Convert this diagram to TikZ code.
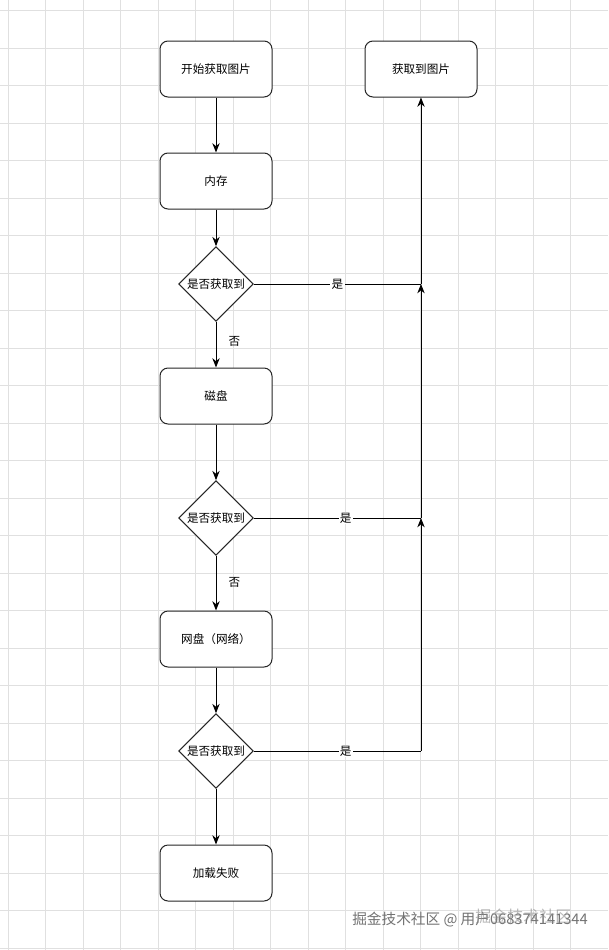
\documentclass[tikz,border=0pt]{standalone}
\usepackage{fontspec}
\setmainfont{Noto Sans CJK SC}
\usetikzlibrary{shapes.geometric,arrows.meta}
\tikzset{
	stepbox/.style={draw=black!85, line width=0.75pt, rounded corners=6pt, minimum width=84pt, minimum height=42pt, font=\fontsize{8.7pt}{10pt}\selectfont},
	decision/.style={draw=black!85, line width=0.75pt, diamond, inner sep=0pt, minimum width=56pt, minimum height=56pt, font=\fontsize{8.7pt}{10pt}\selectfont},
	flow/.style={line width=0.75pt, -{Stealth[length=7pt,width=5.5pt]}},
	link/.style={line width=0.75pt},
	lab/.style={fill=white, inner sep=1pt, font=\fontsize{8.7pt}{10pt}\selectfont},
	gridline/.style={draw=black!12, line width=0.6pt},
}
\begin{document}
\begin{tikzpicture}[x=0.75pt,y=-0.75pt]
			\fill[white] (0,0) rectangle (608,950);
			\useasboundingbox (0,0) rectangle (608,950);
			% grid
			\foreach \gx in {0,...,15} \draw[gridline] (8.3+37.5*\gx,0) -- (8.3+37.5*\gx,950);
			\foreach \gy in {0,...,25} \draw[gridline] (0,10.8+37.5*\gy) -- (608,10.8+37.5*\gy);
			% nodes
			\node[stepbox, fill=white] (B_start) at (216, 69) {开始获取图片};
			\node[stepbox, fill=white] (B_got) at (421, 69) {获取到图片};
			\node[stepbox, fill=white] (B_mem) at (216, 181) {内存};
			\node[decision, fill=white] (D_mem) at (216, 284) {是否获取到};
			\node[stepbox, fill=white] (B_disk) at (216, 396) {磁盘};
			\node[decision, fill=white] (D_disk) at (216, 518) {是否获取到};
			\node[stepbox, fill=white] (B_net) at (216, 639) {网盘（网络）};
			\node[decision, fill=white] (D_net) at (216, 751) {是否获取到};
			\node[stepbox, fill=white] (B_fail) at (216, 873) {加载失败};
			\coordinate (C_mem) at (421, 284);
			\coordinate (C_disk) at (421, 518);
			\coordinate (C_net) at (421, 751);
			% main column
			\draw[flow] (B_start) -- (B_mem);
			\draw[flow] (B_mem) -- (D_mem);
			\draw[flow] (D_mem) -- node[lab, pos=0.42, right=8pt, fill=none] {否} (B_disk);
			\draw[flow] (B_disk) -- (D_disk);
			\draw[flow] (D_disk) -- node[lab, pos=0.48, right=8pt, fill=none] {否} (B_net);
			\draw[flow] (B_net) -- (D_net);
			\draw[flow] (D_net) -- (B_fail);
			% right side
			\draw[link] (D_mem) -- node[lab, pos=0.5] {是} (C_mem);
			\draw[link] (D_disk) -- node[lab, pos=0.55] {是} (C_disk);
			\draw[link] (D_net) -- node[lab, pos=0.55] {是} (C_net);
			\draw[flow] (C_net) -- (C_disk);
			\draw[flow] (C_disk) -- (C_mem);
			\draw[flow] (C_mem) -- (B_got);
			% watermark
			\node[anchor=west, text=black!55, font=\fontsize{11pt}{13pt}\selectfont, inner sep=0pt] (W_a) at (352, 920) {掘金技术社区 @ 用户068374141344};
			\node[anchor=west, text=black!45, opacity=0.6, font=\fontsize{12pt}{14pt}\selectfont, inner sep=0pt] (W_b) at (475, 916) {掘金技术社区};
		\end{tikzpicture}
\end{document}
